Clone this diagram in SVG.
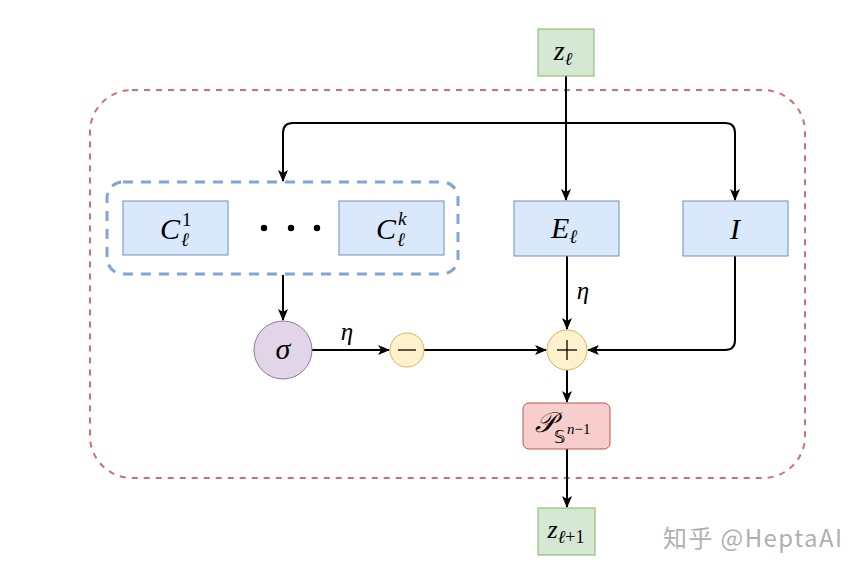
<svg xmlns="http://www.w3.org/2000/svg" width="864" height="574" viewBox="0 0 864 574">
<style>
.m{font-family:"Liberation Serif","DejaVu Serif",serif;font-style:italic;fill:#000}
.r{font-family:"Liberation Serif","DejaVu Serif",serif;fill:#000}
.blue{fill:#dae8fc;stroke:#6c8ebf;stroke-width:1}
.green{fill:#d5e8d4;stroke:#82b366;stroke-width:1}
.c{stroke:#000;stroke-width:2;fill:none;marker-end:url(#ah)}
</style>
<defs>
<marker id="ah" viewBox="0 0 12 10" refX="11" refY="5" markerWidth="12" markerHeight="10" markerUnits="userSpaceOnUse" orient="auto">
<path d="M0,0 L12,5 L0,10 L3,5 z" fill="#000"/>
</marker>
</defs>
<rect width="864" height="574" fill="#fff"/>
<g id="outer-group">
<rect x="90" y="90" width="715" height="388" rx="42" ry="42" fill="none" stroke="#d07070" stroke-width="2" stroke-dasharray="6 6"/>
</g>
<g id="c-group">
<rect x="107" y="182" width="351" height="92" rx="16" ry="16" fill="none" stroke="#7ea6d8" stroke-width="3" stroke-dasharray="10 8"/>
</g>
<g id="connectors">
<path class="c" d="M566,76 V200"/>
<path class="c" d="M566,123 H293 Q283,123 283,133 V181"/>
<path class="c" d="M566,123 H725 Q735,123 735,133 V200"/>
<path class="c" d="M283,275 V320"/>
<path class="c" d="M312,350 H389"/>
<path class="c" d="M424,350 H546"/>
<path class="c" d="M567,256 V329"/>
<path class="c" d="M735,256 V340 Q735,350 725,350 H588"/>
<path class="c" d="M567,370 V402"/>
<path class="c" d="M567,449 V507"/>
<text class="m" x="347" y="340" font-size="25" text-anchor="middle">η</text>
<text class="m" x="583" y="299" font-size="25" text-anchor="middle">η</text>
</g>
<g id="z-in">
<rect class="green" x="538" y="29" width="56" height="47"/>
<text class="m" x="563" y="60" font-size="28" text-anchor="middle">z<tspan font-size="18" dy="5">ℓ</tspan></text>
</g>
<g id="c1">
<rect class="blue" x="123" y="201" width="105" height="54"/>
<text class="m" x="170" y="239" font-size="30" text-anchor="middle">C</text>
<text class="r" x="182" y="226" font-size="19">1</text>
<text class="m" x="181" y="246" font-size="19">ℓ</text>
</g>
<g id="dots">
<circle cx="264" cy="228" r="3.2" fill="#000"/>
<circle cx="291" cy="228" r="3.2" fill="#000"/>
<circle cx="317" cy="228" r="3.2" fill="#000"/>
</g>
<g id="ck">
<rect class="blue" x="339" y="201" width="105" height="54"/>
<text class="m" x="386" y="239" font-size="30" text-anchor="middle">C</text>
<text class="m" x="398" y="225" font-size="19">k</text>
<text class="m" x="397" y="246" font-size="19">ℓ</text>
</g>
<g id="e">
<rect class="blue" x="514" y="201" width="105" height="55"/>
<text class="m" x="564" y="238" font-size="30" text-anchor="middle">E<tspan font-size="19" dy="5">ℓ</tspan></text>
</g>
<g id="i">
<rect class="blue" x="683" y="201" width="105" height="55"/>
<text class="m" x="735" y="239" font-size="30" text-anchor="middle">I</text>
</g>
<g id="sigma">
<circle cx="283" cy="350" r="29" fill="#e1d5e7" stroke="#9673a6" stroke-width="1"/>
<text class="m" x="283" y="359" font-size="30" text-anchor="middle">σ</text>
</g>
<g id="minus">
<circle cx="407" cy="350" r="17" fill="#fff2cc" stroke="#d6b656" stroke-width="1"/>
<line x1="398" y1="350" x2="416" y2="350" stroke="#000" stroke-width="1.3"/>
</g>
<g id="plus">
<circle cx="567" cy="350" r="20" fill="#fff2cc" stroke="#d6b656" stroke-width="1"/>
<line x1="557" y1="350" x2="577" y2="350" stroke="#000" stroke-width="1.3"/>
<line x1="567" y1="340" x2="567" y2="360" stroke="#000" stroke-width="1.3"/>
</g>
<g id="proj">
<rect x="523" y="403" width="87" height="46" rx="6" ry="6" fill="#f8cecc" stroke="#b85450" stroke-width="1"/>
<text class="m" x="545" y="432" font-size="28" text-anchor="middle">𝒫</text>
<text font-family="DejaVu Sans,sans-serif" x="554" y="443" font-size="18">𝕊</text>
<text class="m" x="567" y="434" font-size="15">n<tspan class="r" font-style="normal">−1</tspan></text>
</g>
<g id="z-out">
<rect class="green" x="538" y="508" width="57" height="47"/>
<text class="m" x="566" y="538" font-size="26" text-anchor="middle">z<tspan font-size="18" dy="5">ℓ</tspan><tspan class="r" font-style="normal" font-size="18">+1</tspan></text>
</g>
<g id="watermark">
<text x="663" y="547" font-family="Noto Sans CJK SC,Noto Sans,sans-serif" font-size="24" fill="#b0b0b0" textLength="179">知乎 @HeptaAI</text>
</g>
</svg>
